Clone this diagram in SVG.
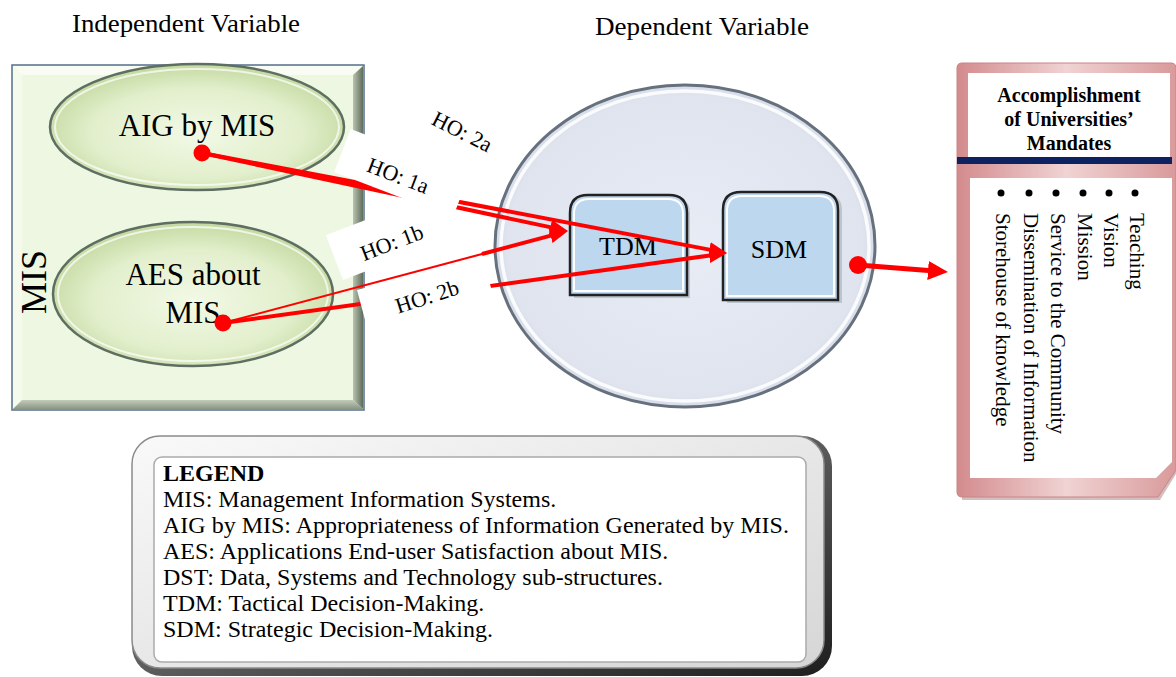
<svg xmlns="http://www.w3.org/2000/svg" width="1176" height="677" viewBox="0 0 1176 677">
<defs>
<style>
.serif{font-family:"Liberation Serif","Times New Roman",serif;fill:#000}
.conn{stroke:#ff0000;fill:none;stroke-linecap:butt}
.lbl{font-family:"Liberation Serif","Times New Roman",serif;font-size:22px;fill:#000;text-anchor:middle}
.lst{font-family:"Liberation Serif","Times New Roman",serif;font-size:21px;fill:#000}
.leg{font-family:"Liberation Serif","Times New Roman",serif;font-size:24px;fill:#000}
</style>
<marker id="ah" markerUnits="userSpaceOnUse" markerWidth="18" markerHeight="15" refX="8" refY="7.5" orient="auto">
<path d="M0,0 L18,7.5 L0,15 Z" fill="#ff0000"/>
</marker>
<marker id="ahBig" markerUnits="userSpaceOnUse" markerWidth="20" markerHeight="19" refX="10" refY="9.5" orient="auto">
<path d="M0,0 L20,9.5 L0,19 Z" fill="#ff0000"/>
</marker>
<radialGradient id="greenEll" cx="50%" cy="55%" r="55%">
<stop offset="0" stop-color="#f2f9e6"/>
<stop offset="0.65" stop-color="#e2efcc"/>
<stop offset="1" stop-color="#c3d99f"/>
</radialGradient>
<radialGradient id="blueEll" cx="50%" cy="50%" r="55%">
<stop offset="0" stop-color="#e8ecf5"/>
<stop offset="0.85" stop-color="#dfe4ef"/>
<stop offset="1" stop-color="#c9d0de"/>
</radialGradient>
<linearGradient id="rightBevel" x1="0" y1="0" x2="1" y2="0">
<stop offset="0" stop-color="#b9c4b0"/>
<stop offset="1" stop-color="#5f6d5c"/>
</linearGradient>
<linearGradient id="botBevel" x1="0" y1="0" x2="0" y2="1">
<stop offset="0" stop-color="#c3ccb8"/>
<stop offset="1" stop-color="#8a9585"/>
</linearGradient>
<linearGradient id="pinkFrame" x1="0" y1="0" x2="1" y2="0">
<stop offset="0" stop-color="#d38b8d"/>
<stop offset="0.5" stop-color="#f0d3d3"/>
<stop offset="1" stop-color="#d99a9b"/>
</linearGradient>
<linearGradient id="legFrame" x1="0" y1="0" x2="1" y2="1">
<stop offset="0" stop-color="#f9f9f9"/>
<stop offset="1" stop-color="#d6d6d6"/>
</linearGradient>
<linearGradient id="legDark" x1="0" y1="0" x2="1" y2="1">
<stop offset="0" stop-color="#9a9a9a"/>
<stop offset="1" stop-color="#1e1e1e"/>
</linearGradient>
</defs>

<rect width="1176" height="677" fill="#ffffff"/>

<g id="heading-independent">
<text class="serif" x="72" y="32" font-size="26" textLength="228" lengthAdjust="spacingAndGlyphs">Independent Variable</text>
</g>
<g id="heading-dependent">
<text class="serif" x="595" y="35" font-size="26" textLength="214" lengthAdjust="spacingAndGlyphs">Dependent Variable</text>
</g>

<g id="node-mis">
<rect x="12" y="65" width="352" height="345" fill="#eef7e2" stroke="#56708c" stroke-width="1.5"/>
<polygon points="13,66 363,66 353,75 22,75" fill="#f8fcf2"/>
<polygon points="13,66 22,75 22,400 13,409" fill="#f5faec"/>
<polygon points="363,66 363,409 353,400 353,75" fill="url(#rightBevel)"/>
<polygon points="13,409 363,409 353,400 22,400" fill="url(#botBevel)"/>
<text class="serif" font-size="36" text-anchor="middle" transform="translate(46,282) rotate(-90)">MIS</text>
</g>

<g id="node-aig">
<ellipse cx="197" cy="127" rx="147" ry="63" fill="url(#greenEll)" stroke="#5e6e62" stroke-width="2.5"/>
<ellipse cx="197" cy="127" rx="142" ry="58" fill="none" stroke="#ffffff" stroke-opacity="0.7" stroke-width="2"/>
<text class="serif" x="197" y="136" font-size="31" text-anchor="middle">AIG by MIS</text>
</g>

<g id="node-aes">
<ellipse cx="193" cy="294" rx="140" ry="72" fill="url(#greenEll)" stroke="#5e6e62" stroke-width="2.5"/>
<ellipse cx="193" cy="294" rx="135" ry="67" fill="none" stroke="#ffffff" stroke-opacity="0.7" stroke-width="2"/>
<text class="serif" x="193" y="285" font-size="31" text-anchor="middle">AES about</text>
<text class="serif" x="193" y="323" font-size="31" text-anchor="middle">MIS</text>
</g>

<g id="node-dependent">
<ellipse cx="685" cy="246" rx="190" ry="161" fill="url(#blueEll)" stroke="#66717d" stroke-width="3"/>
<ellipse cx="685" cy="246" rx="184" ry="155" fill="none" stroke="#ffffff" stroke-opacity="0.85" stroke-width="3.5"/>
</g>

<g id="node-tdm">
<path d="M574,298 H690 V213 Q690,198 675,198 H589 Q574,198 574,213 Z" fill="#9aa3ad" opacity="0.5"/>
<path d="M570,295 H687 V213 Q687,195 669,195 H588 Q570,195 570,213 Z" fill="#bdd7ee" stroke="#222222" stroke-width="2.5"/>
<path d="M574,291 H683 V214 Q683,199 668,199 H589 Q574,199 574,214 Z" fill="none" stroke="#ffffff" stroke-width="2"/>
<text class="serif" x="628" y="255" font-size="26" text-anchor="middle">TDM</text>
</g>

<g id="node-sdm">
<path d="M727,303 H842 V210 Q842,195 827,195 H742 Q727,195 727,210 Z" fill="#9aa3ad" opacity="0.5"/>
<path d="M723,300 H838 V210 Q838,192 820,192 H741 Q723,192 723,210 Z" fill="#bdd7ee" stroke="#222222" stroke-width="2.5"/>
<path d="M727,296 H834 V211 Q834,196 819,196 H742 Q727,196 727,211 Z" fill="none" stroke="#ffffff" stroke-width="2"/>
<text class="serif" x="779" y="258" font-size="26" text-anchor="middle">SDM</text>
</g>

<g id="connectors">
<line class="conn" x1="202" y1="153" x2="717.2" y2="251.1" stroke-width="4" marker-end="url(#ah)"/>
<line class="conn" x1="202" y1="153" x2="558.2" y2="228.9" stroke-width="4" marker-end="url(#ah)"/>
<line class="conn" x1="223" y1="323" x2="717.1" y2="254.4" stroke-width="4" marker-end="url(#ah)"/>
<line class="conn" x1="858" y1="265" x2="938" y2="271.2" stroke-width="5" marker-end="url(#ahBig)"/>
</g>

<g id="label-1a" transform="translate(398,176) rotate(21)">
<rect x="-61" y="-27" width="127" height="46" fill="#ffffff"/>
<text class="lbl" x="0" y="7">HO: 1a</text>
</g>
<g id="label-2a" transform="translate(462,132) rotate(27)">
<text class="lbl" x="0" y="7">HO: 2a</text>
</g>
<g id="label-1b" transform="translate(392,243) rotate(-21)">
<rect x="-59" y="-31" width="120" height="48" fill="#ffffff"/>
<text class="lbl" x="0" y="7">HO: 1b</text>
</g>
<g id="label-2b" transform="translate(357,290) rotate(-15)">
<rect x="0" y="0" width="130" height="48" fill="#ffffff"/>
<text class="lbl" x="66" y="32" transform="rotate(-3 66 25)">HO: 2b</text>
</g>

<g id="connectors-top">
<line class="conn" x1="223" y1="323" x2="483" y2="253.7" stroke-width="2"/>
<line class="conn" x1="482" y1="254" x2="558.3" y2="233.6" stroke-width="4" marker-end="url(#ah)"/>
<circle cx="202" cy="153" r="8.5" fill="#ff0000"/>
<circle cx="223" cy="323" r="8.5" fill="#ff0000"/>
<circle cx="858" cy="265" r="9" fill="#ff0000"/>
</g>

<g id="node-mandates">
<path d="M962,66 H1176 V474 L1160,500 H962 Z" fill="#9c7070" opacity="0.45"/>
<path d="M962,63 H1171 Q1176,63 1176,68 V470 L1158,497 H962 Q957,497 957,492 V68 Q957,63 962,63 Z" fill="url(#pinkFrame)" stroke="#c98486" stroke-width="1"/>
<rect x="968" y="73" width="202" height="84" fill="#ffffff"/>
<rect x="957" y="157" width="215" height="7" fill="#0d2260"/>
<polygon points="970,178 1172,178 1172,462 1156,478 970,478" fill="#ffffff"/>
<text class="serif" font-size="20" font-weight="bold" text-anchor="middle" x="1069" y="102">Accomplishment</text>
<text class="serif" font-size="20" font-weight="bold" text-anchor="middle" x="1069" y="126">of Universities’</text>
<text class="serif" font-size="20" font-weight="bold" text-anchor="middle" x="1069" y="150">Mandates</text>
<circle cx="1135" cy="193" r="3.5" fill="#000"/>
<circle cx="1109" cy="193" r="3.5" fill="#000"/>
<circle cx="1083" cy="193" r="3.5" fill="#000"/>
<circle cx="1056" cy="193" r="3.5" fill="#000"/>
<circle cx="1029" cy="193" r="3.5" fill="#000"/>
<circle cx="1001" cy="193" r="3.5" fill="#000"/>
<text class="lst" transform="translate(1130,213) rotate(90)">Teaching</text>
<text class="lst" transform="translate(1104,213) rotate(90)">Vision</text>
<text class="lst" transform="translate(1078,213) rotate(90)">Mission</text>
<text class="lst" transform="translate(1051,213) rotate(90)">Service to the Community</text>
<text class="lst" transform="translate(1024,213) rotate(90)">Dissemination of Information</text>
<text class="lst" transform="translate(996,213) rotate(90)">Storehouse of knowledge</text>
</g>

<g id="node-legend">
<rect x="132" y="436" width="700" height="240" rx="30" ry="30" fill="url(#legDark)"/>
<rect x="132" y="436" width="692" height="232" rx="28" ry="28" fill="url(#legFrame)" stroke="#8a8a8a" stroke-width="1.5"/>
<rect x="154" y="457" width="652" height="205" rx="8" ry="8" fill="#ffffff" stroke="#aaaaaa" stroke-width="1.5"/>
<text class="leg" x="163" y="481" font-weight="bold">LEGEND</text>
<text class="leg" x="163" y="507">MIS: Management Information Systems.</text>
<text class="leg" x="163" y="533">AIG by MIS: Appropriateness of Information Generated by MIS.</text>
<text class="leg" x="163" y="559">AES: Applications End-user Satisfaction about MIS.</text>
<text class="leg" x="163" y="585">DST: Data, Systems and Technology sub-structures.</text>
<text class="leg" x="163" y="611">TDM: Tactical Decision-Making.</text>
<text class="leg" x="163" y="637">SDM: Strategic Decision-Making.</text>
</g>
</svg>
